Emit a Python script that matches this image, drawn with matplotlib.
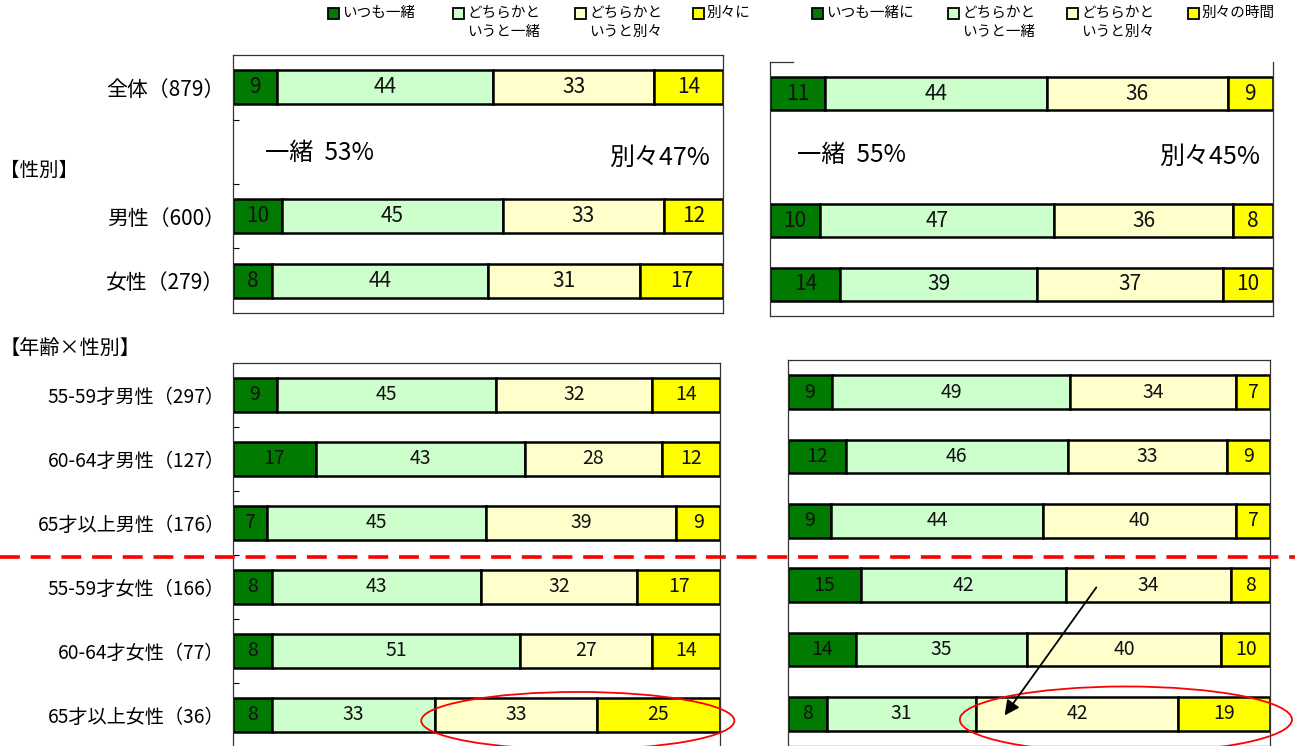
import numpy as np
import matplotlib.pyplot as plt
from matplotlib.patches import Ellipse, Rectangle
from matplotlib.lines import Line2D

plt.rcParams['font.family'] = ['Noto Sans CJK JP', 'DejaVu Sans']

# ---- data ----
top_labels = ['全体（879）', '男性（600）', '女性（279）']
age_labels = ['55-59才男性（297）', '60-64才男性（127）', '65才以上男性（176）',
              '55-59才女性（166）', '60-64才女性（77）', '65才以上女性（36）']

left_top = [[9, 44, 33, 14],
            [10, 45, 33, 12],
            [8, 44, 31, 17]]
right_top = [[11, 44, 36, 9],
             [10, 47, 36, 8],
             [14, 39, 37, 10]]
left_age = [[9, 45, 32, 14],
            [17, 43, 28, 12],
            [7, 45, 39, 9],
            [8, 43, 32, 17],
            [8, 51, 27, 14],
            [8, 33, 33, 25]]
right_age = [[9, 49, 34, 7],
             [12, 46, 33, 9],
             [9, 44, 40, 7],
             [15, 42, 34, 8],
             [14, 35, 40, 10],
             [8, 31, 42, 19]]

left_legend = ['いつも一緒', 'どちらかと\nいうと一緒', 'どちらかと\nいうと別々', '別々に']
right_legend = ['いつも一緒に', 'どちらかと\nいうと一緒', 'どちらかと\nいうと別々', '別々の時間']

left_summary = ['一緒  53%', '別々47%']
right_summary = ['一緒  55%', '別々45%']

colors = ['#007A00', '#CCFFCC', '#FFFFCC', '#FFFF00']

W, H = 1295, 746
fig = plt.figure(figsize=(W / 100, H / 100), dpi=100)


def px_axes(x0, y0, x1, y1):
    return fig.add_axes([x0 / W, 1 - y1 / H, (x1 - x0) / W, (y1 - y0) / H])


def draw_bars(ax, rows, pos, fs):
    rows = np.array(rows, float)
    widths = rows / rows.sum(axis=1, keepdims=True) * 100
    left = np.zeros(len(rows))
    for j in range(4):
        ax.barh(pos, widths[:, j], left=left, height=0.52, color=colors[j],
                edgecolor='black', linewidth=1.8, zorder=2)
        for p, l, w, v in zip(pos, left, widths[:, j], rows[:, j]):
            ax.text(l + w / 2, p, f'{int(v)}', ha='center', va='center',
                    fontsize=fs, color='#111111', zorder=3)
        left += widths[:, j]
    ax.set_xlim(0, 100)
    ax.set_xticks([])
    for s in ax.spines.values():
        s.set_linewidth(0.9)
        s.set_color('#333333')


# top panels: one empty row between 全体 and 男性
top_pos = np.array([0, 2, 3])

ax_lt = px_axes(233, 55, 723, 313)
draw_bars(ax_lt, left_top, top_pos, 15)
ax_lt.set_ylim(3.5, -0.5)
ax_lt.set_yticks(top_pos, top_labels, fontsize=15)
ax_lt.set_yticks([0.5, 1.5, 2.5], minor=True)
ax_lt.tick_params(axis='y', which='major', length=0, pad=6)
ax_lt.tick_params(axis='y', which='minor', direction='in', length=4, width=0.8)
ax_lt.text(6.5, 1.02, left_summary[0], fontsize=17.5, ha='left', va='center')
ax_lt.text(97.3, 1.1, left_summary[1], fontsize=18, ha='right', va='center')

ax_rt = px_axes(770, 62, 1273, 316)
draw_bars(ax_rt, right_top, top_pos, 15)
ax_rt.set_ylim(3.5, -0.5)
ax_rt.set_yticks([])
ax_rt.spines['top'].set_visible(False)
ax_rt.plot([0, 0.045], [1, 1], transform=ax_rt.transAxes, color='#333333',
           lw=0.9, clip_on=False)
ax_rt.text(5.4, 0.96, right_summary[0], fontsize=17.5, ha='left', va='center')
ax_rt.text(97.4, 1.0, right_summary[1], fontsize=18, ha='right', va='center')

age_pos = np.arange(len(age_labels))

ax_lb = px_axes(233, 363, 720, 747)
draw_bars(ax_lb, left_age, age_pos, 14)
ax_lb.set_ylim(5.5, -0.5)
ax_lb.set_yticks(age_pos, age_labels, fontsize=13.8)
ax_lb.set_yticks(age_pos[:-1] + 0.5, minor=True)
ax_lb.tick_params(axis='y', which='major', length=0, pad=6)
ax_lb.tick_params(axis='y', which='minor', direction='in', length=4, width=0.8)
ax_lb.add_patch(Ellipse((70.8, 5.09), 64.3, 0.9, fill=False, edgecolor='red',
                        lw=1.3, clip_on=False, zorder=4))

ax_rb = px_axes(788, 360, 1270, 746)
draw_bars(ax_rb, right_age, age_pos, 14)
ax_rb.set_ylim(5.5, -0.5)
ax_rb.set_yticks([])
ax_rb.add_patch(Ellipse((70.1, 5.09), 68.9, 1.03, fill=False, edgecolor='red',
                        lw=1.3, clip_on=False, zorder=4))
ax_rb.annotate('', xy=(44.6, 5.06), xytext=(64.3, 3.0),
               arrowprops=dict(arrowstyle='-|>', color='black', lw=1.3,
                               mutation_scale=22), zorder=5)

# section headers
fig.text(0, 1 - 170 / H, '【性別】', fontsize=14, ha='left', va='center')
fig.text(0, 1 - 349 / H, '【年齢×性別】', fontsize=14.5, ha='left', va='center')

# red dashed separator
fig.add_artist(Line2D([0, 1], [1 - 557 / H, 1 - 557 / H], transform=fig.transFigure,
                      color='red', lw=2.6, dashes=(5.5, 3), zorder=10))


# legends
def draw_legend(labels, xs):
    for lab, x, c in zip(labels, xs, colors):
        fig.add_artist(Rectangle((x / W, 1 - 19 / H), 11 / W, 11 / H, facecolor=c,
                                 edgecolor='black', lw=1.3, transform=fig.transFigure))
        for i, line in enumerate(lab.split('\n')):
            fig.text((x + 14) / W, 1 - (13 + 19 * i) / H, line, fontsize=10.5,
                     ha='left', va='center')


draw_legend(left_legend, [328, 453, 575, 693])
draw_legend(right_legend, [812, 948, 1067, 1188])

fig.savefig('out.png', dpi=100)
